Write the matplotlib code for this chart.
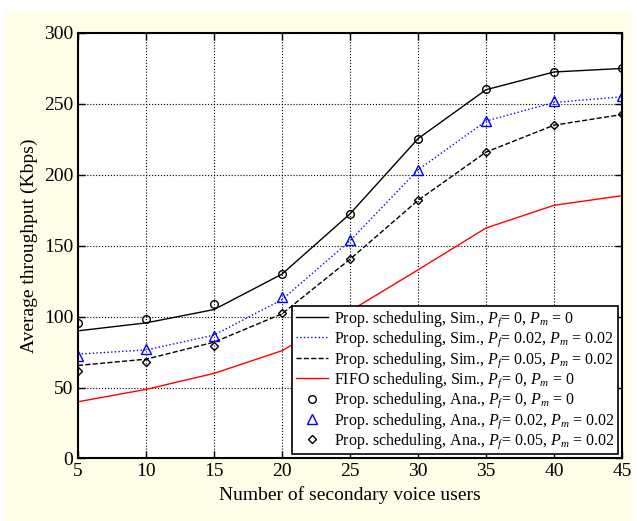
import matplotlib
matplotlib.use('Agg')
import matplotlib.pyplot as plt
import matplotlib.patches as patches

plt.rcParams['font.family'] = ['Liberation Serif', 'DejaVu Serif']
plt.rcParams['mathtext.fontset'] = 'custom'
plt.rcParams['mathtext.rm'] = 'Liberation Serif'
plt.rcParams['mathtext.it'] = 'Liberation Serif:italic'

# number of secondary voice users
users = [5, 10, 15, 20, 25, 30, 35, 40, 45]

# simulation curves
sim_p0 = [90, 95.6, 105, 130, 172.5, 225.5, 260, 272.5, 275]
sim_p002 = [73.6, 76.5, 87, 112, 153.5, 203.5, 237.9, 251, 255]
sim_p005 = [65.6, 70, 82, 102, 140.5, 182, 216, 235, 242.5]
fifo_p0 = [40, 48.7, 60, 76, 104, 133, 162.5, 178.5, 185.3]

# analytical points
ana_p0 = [95.2, 98, 109, 130.4, 172.7, 225.5, 260.4, 272.4, 275.2]
ana_p002 = [72.4, 76.9, 86.5, 113.7, 153.9, 203.6, 237.9, 251.8, 255.6]
ana_p005 = [61.8, 68.2, 79.4, 102.5, 140.5, 182, 216.2, 235.3, 242.6]

fig = plt.figure(figsize=(6.37, 5.21), dpi=100)
fig.patch.set_facecolor('white')
# light yellow frame like the MATLAB figure window
fig.patches.append(patches.Rectangle((5 / 637, 0), 628 / 637, 1 - 10 / 521,
                                     transform=fig.transFigure, facecolor='#fffee8',
                                     edgecolor='none', zorder=-10))

ax = fig.add_axes([0.1225, 0.12, 0.854, 0.8167])

ax.plot(users, sim_p0, color='black', lw=1.0,
        label='Prop. scheduling, Sim., $P_f$= 0, $P_m$ = 0')
ax.plot(users, sim_p002, color='blue', lw=1.0, ls=':',
        label='Prop. scheduling, Sim., $P_f$= 0.02, $P_m$ = 0.02')
ax.plot(users, sim_p005, color='black', lw=1.0, ls='--',
        label='Prop. scheduling, Sim., $P_f$= 0.05, $P_m$ = 0.02')
ax.plot(users, fifo_p0, color='red', lw=1.0,
        label='FIFO scheduling, Sim., $P_f$= 0, $P_m$ = 0')
ax.plot(users, ana_p0, ls='none', marker='o', ms=5.5, mfc='none', mec='black', mew=1.0,
        label='Prop. scheduling, Ana., $P_f$= 0, $P_m$ = 0')
ax.plot(users, ana_p002, ls='none', marker='^', ms=6.5, mfc='none', mec='blue', mew=1.0,
        label='Prop. scheduling, Ana., $P_f$= 0.02, $P_m$ = 0.02')
ax.plot(users, ana_p005, ls='none', marker='D', ms=4.5, mfc='none', mec='black', mew=1.0,
        label='Prop. scheduling, Ana., $P_f$= 0.05, $P_m$ = 0.02')

ax.set_xlim(5, 45)
ax.set_ylim(0, 300)
ax.set_xticks(users)
ax.set_yticks(range(0, 301, 50))
ax.grid(True, color='black', ls=':', lw=0.8)
ax.tick_params(direction='in', top=True, right=True, labelsize=14, length=5, width=1)
for s in ax.spines.values():
    s.set_linewidth(1.5)

ax.set_xlabel('Number of secondary voice users', fontsize=14)
ax.set_ylabel('Average throughput (Kbps)', fontsize=14)

leg = ax.legend(loc='lower right', fontsize=11.5, fancybox=False, framealpha=1,
                edgecolor='black', borderaxespad=0.25, handlelength=2.0,
                labelspacing=0.05, borderpad=0.2, handletextpad=0.4)
leg.get_frame().set_linewidth(1.2)

fig.savefig('out.png', dpi=100, facecolor=fig.get_facecolor())
